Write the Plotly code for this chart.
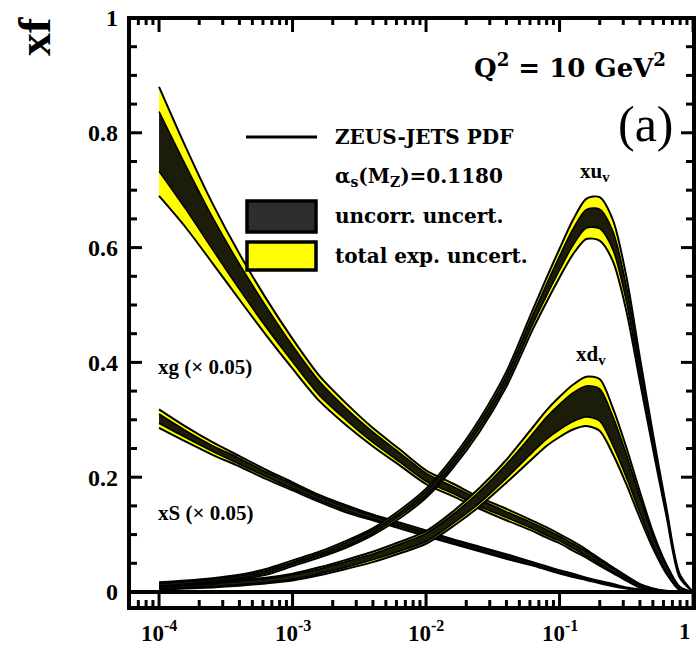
import math
import plotly.graph_objects as go

# ---------------- data ----------------
# x grid: log10(x) = -4 ... -1.2 in steps of 0.2, then -1.1 ... 0 in steps of 0.1
X = [1e-4, 1.585e-4, 2.512e-4, 3.981e-4, 6.31e-4, 1e-3, 1.585e-3, 2.512e-3, 3.981e-3,
     6.31e-3, 1e-2, 1.585e-2, 2.512e-2, 3.981e-2, 6.31e-2, 7.943e-2, 0.1, 0.1259,
     0.1585, 0.1995, 0.2512, 0.3162, 0.3981, 0.5012, 0.631, 0.7943, 1.0]

XUV = [0.013, 0.016, 0.02, 0.026, 0.035, 0.05, 0.065, 0.083, 0.105, 0.135, 0.172,
       0.225, 0.29, 0.37, 0.475, 0.525, 0.573, 0.618, 0.65, 0.65, 0.612, 0.52,
       0.39, 0.262, 0.14, 0.028, 0.0]
XUV_TOT = [0.004, 0.004, 0.004, 0.004, 0.005, 0.005, 0.005, 0.006, 0.006, 0.007, 0.008,
           0.009, 0.011, 0.013, 0.017, 0.021, 0.025, 0.03, 0.035, 0.038, 0.036, 0.03,
           0.021, 0.013, 0.007, 0.003, 0.0]
XUV_UNC = [0.002, 0.002, 0.002, 0.002, 0.002, 0.002, 0.002, 0.003, 0.003, 0.003, 0.004,
           0.004, 0.005, 0.006, 0.008, 0.01, 0.012, 0.014, 0.016, 0.017, 0.016, 0.013,
           0.009, 0.006, 0.003, 0.001, 0.0]

XDV = [0.008, 0.01, 0.012, 0.016, 0.02, 0.026, 0.036, 0.048, 0.061, 0.077, 0.095,
       0.127, 0.165, 0.21, 0.26, 0.285, 0.305, 0.322, 0.332, 0.326, 0.28, 0.22,
       0.153, 0.09, 0.04, 0.006, 0.0]
XDV_TOT = [0.004, 0.004, 0.004, 0.005, 0.005, 0.006, 0.007, 0.008, 0.009, 0.01, 0.011,
           0.013, 0.016, 0.02, 0.027, 0.031, 0.035, 0.039, 0.043, 0.045, 0.04, 0.032,
           0.023, 0.014, 0.008, 0.003, 0.0]
XDV_UNC = [0.002, 0.002, 0.002, 0.003, 0.003, 0.004, 0.004, 0.005, 0.005, 0.006, 0.007,
           0.008, 0.01, 0.012, 0.016, 0.019, 0.022, 0.025, 0.027, 0.028, 0.025, 0.02,
           0.014, 0.008, 0.005, 0.002, 0.0]

XG = [0.785, 0.705, 0.625, 0.55, 0.48, 0.415, 0.355, 0.31, 0.27, 0.235, 0.2,
      0.178, 0.155, 0.135, 0.115, 0.104, 0.093, 0.08, 0.067, 0.052, 0.038, 0.024,
      0.011, 0.004, 0.001, 0.0, 0.0]
XG_TOT = [0.095, 0.07, 0.052, 0.04, 0.032, 0.026, 0.022, 0.019, 0.016, 0.014, 0.012,
          0.011, 0.01, 0.01, 0.009, 0.009, 0.008, 0.008, 0.007, 0.006, 0.005, 0.004,
          0.003, 0.002, 0.001, 0.0, 0.0]
XG_UNC = [0.052, 0.038, 0.028, 0.022, 0.018, 0.014, 0.012, 0.01, 0.009, 0.008, 0.007,
          0.006, 0.006, 0.005, 0.005, 0.005, 0.004, 0.004, 0.004, 0.003, 0.003, 0.002,
          0.002, 0.001, 0.0, 0.0, 0.0]

XS = [0.302, 0.275, 0.25, 0.228, 0.205, 0.184, 0.163, 0.145, 0.13, 0.116, 0.102,
      0.088, 0.075, 0.062, 0.049, 0.042, 0.035, 0.029, 0.023, 0.017, 0.012, 0.007,
      0.004, 0.002, 0.001, 0.0, 0.0]
XS_TOT = [0.016, 0.013, 0.011, 0.009, 0.008, 0.007, 0.006, 0.006, 0.005, 0.005, 0.005,
          0.004, 0.004, 0.004, 0.003, 0.003, 0.003, 0.003, 0.002, 0.002, 0.002, 0.001,
          0.001, 0.001, 0.0, 0.0, 0.0]
XS_UNC = [0.008, 0.006, 0.005, 0.005, 0.004, 0.004, 0.003, 0.003, 0.003, 0.002, 0.002,
          0.002, 0.002, 0.002, 0.002, 0.002, 0.001, 0.001, 0.001, 0.001, 0.001, 0.0,
          0.0, 0.0, 0.0, 0.0, 0.0]

X_TICKS = [1e-4, 1e-3, 1e-2, 1e-1, 1]
X_TICKTEXT = ['10<sup>-4</sup>', '10<sup>-3</sup>', '10<sup>-2</sup>', '10<sup>-1</sup>', '1']
Y_TICKS = [0, 0.2, 0.4, 0.6, 0.8, 1.0]
Y_TICKTEXT = ['0', '0.2', '0.4', '0.6', '0.8', '1']

# ---------------- layout geometry (page pixels; body margin removed) ----------------
W, H = 698, 648
L, R, T, B = 129, 694, 18, 608
XMIN, XMAX = -4.225, 0.007
YMIN, YMAX = -0.0279, 1.0


def px(xp):
    return (xp - L) / (R - L)


def py(yp):
    return (B - yp) / (B - T)


def xpaper(v):
    return (math.log10(v) - XMIN) / (XMAX - XMIN)


def ypaper(v):
    return (v - YMIN) / (YMAX - YMIN)


YELLOW = '#ffff00'
DARK = '#1c1c0a'

fig = go.Figure()


def add_band(c, tot, unc):
    lo_t = [max(a - b, 0.0) for a, b in zip(c, tot)]
    hi_t = [a + b for a, b in zip(c, tot)]
    lo_u = [max(a - b, 0.0) for a, b in zip(c, unc)]
    hi_u = [a + b for a, b in zip(c, unc)]
    ln = dict(color='black', width=2, shape='spline', smoothing=0.8)
    fig.add_trace(go.Scatter(x=X, y=lo_t, mode='lines', line=ln,
                             hoverinfo='skip', showlegend=False))
    fig.add_trace(go.Scatter(x=X, y=hi_t, mode='lines', line=ln, fill='tonexty',
                             fillcolor=YELLOW, hoverinfo='skip', showlegend=False))
    ln2 = dict(color='black', width=1.6, shape='spline', smoothing=0.8)
    fig.add_trace(go.Scatter(x=X, y=lo_u, mode='lines', line=ln2,
                             hoverinfo='skip', showlegend=False))
    fig.add_trace(go.Scatter(x=X, y=hi_u, mode='lines', line=ln2, fill='tonexty',
                             fillcolor=DARK, hoverinfo='skip', showlegend=False))


add_band(XG, XG_TOT, XG_UNC)
add_band(XS, XS_TOT, XS_UNC)
add_band(XDV, XDV_TOT, XDV_UNC)
add_band(XUV, XUV_TOT, XUV_UNC)

minor_x = [k * 10.0 ** e for e in range(-5, 0) for k in range(2, 10)]
minor_x = [v for v in minor_x if 10 ** XMIN <= v <= 1.0]
minor_y = [round(0.05 * i, 2) for i in range(1, 20) if i % 4 != 0]

TICKFONT = dict(family='Liberation Serif', size=24, color='black', weight='bold')
XTICKFONT = dict(family='Liberation Serif', size=23, color='black', weight='bold')

fig.update_xaxes(
    type='log', range=[XMIN, XMAX],
    showline=False, ticks='', showticklabels=False,
    showgrid=False, zeroline=False,
)
fig.update_yaxes(
    range=[YMIN, YMAX], automargin=False,
    showline=False, ticks='',
    tickmode='array', tickvals=Y_TICKS, ticktext=Y_TICKTEXT,
    tickfont=TICKFONT, ticklabelstandoff=10,
    showgrid=False, zeroline=True, zerolinecolor='black', zerolinewidth=3.5,
)

LEG = dict(family='DejaVu Serif', size=20, color='black', weight='bold')
LBL = dict(family='Liberation Serif', size=21, color='black', weight='bold')

annots = [
    dict(text='xf', x=px(34), y=py(37), font=dict(family='Liberation Serif', size=46,
                                                  color='black', weight='bold'),
         textangle=-90, xanchor='center', yanchor='middle'),
    dict(text='Q<sup>2</sup> = 10 GeV<sup>2</sup>', x=px(668), y=py(66),
         font=dict(family='DejaVu Serif', size=26, color='black', weight='bold'),
         xanchor='right', yanchor='middle'),
    dict(text='(a)', x=px(646), y=py(124),
         font=dict(family='Liberation Serif', size=50, color='black'),
         xanchor='center', yanchor='middle'),
    dict(text='ZEUS-JETS PDF', x=px(333), y=py(137), font=LEG, xanchor='left', yanchor='middle'),
    dict(text='α<sub>s</sub>(M<sub>Z</sub>)=0.1180', x=px(333), y=py(177), font=LEG,
         xanchor='left', yanchor='middle'),
    dict(text='uncorr. uncert.', x=px(333), y=py(216), font=LEG, xanchor='left', yanchor='middle'),
    dict(text='total exp. uncert.', x=px(333), y=py(256), font=LEG, xanchor='left', yanchor='middle'),
    dict(text='xu<sub>v</sub>', x=px(578), y=py(172), font=LBL, xanchor='left', yanchor='middle'),
    dict(text='xd<sub>v</sub>', x=px(574), y=py(355), font=LBL, xanchor='left', yanchor='middle'),
    dict(text='xg (× 0.05)', x=px(156), y=py(367), font=LBL, xanchor='left', yanchor='middle'),
    dict(text='xS (× 0.05)', x=px(156), y=py(513), font=LBL, xanchor='left', yanchor='middle'),
]
for a in annots:
    a.update(xref='paper', yref='paper', showarrow=False)

# x tick labels as annotations (log axis -> annotation x is log10 of value)
for v, t in zip(X_TICKS, X_TICKTEXT):
    annots.append(dict(text=t, x=math.log10(v), xref='x', y=py(631), yref='paper',
                       showarrow=False, font=XTICKFONT,
                       xanchor='right' if v == 1 else 'center', yanchor='middle'))

shapes = [
    dict(type='line', x0=px(246), x1=px(317), y0=py(137), y1=py(137),
         line=dict(color='black', width=3)),
    dict(type='rect', x0=px(247), x1=px(316), y0=py(201), y1=py(232),
         fillcolor='#2e2e2e', line=dict(color='black', width=3.5)),
    dict(type='rect', x0=px(247), x1=px(316), y0=py(242), y1=py(270),
         fillcolor=YELLOW, line=dict(color='black', width=3.5)),
    # plot frame
    dict(type='rect', x0=0, x1=1, y0=0, y1=1, fillcolor='rgba(0,0,0,0)',
         line=dict(color='black', width=4), layer='above'),
]

# frame tick marks (axis decoration, in paper units)
PW, PH = R - L, B - T
TW = 3
for v in X_TICKS:
    xp = xpaper(v)
    shapes.append(dict(type='line', x0=xp, x1=xp, y0=0, y1=17 / PH,
                       line=dict(color='black', width=TW)))
    shapes.append(dict(type='line', x0=xp, x1=xp, y0=1, y1=1 - 14 / PH,
                       line=dict(color='black', width=TW)))
for v in minor_x:
    xp = xpaper(v)
    shapes.append(dict(type='line', x0=xp, x1=xp, y0=0, y1=8 / PH,
                       line=dict(color='black', width=TW)))
    shapes.append(dict(type='line', x0=xp, x1=xp, y0=1, y1=1 - 7 / PH,
                       line=dict(color='black', width=TW)))
for v in Y_TICKS + minor_y:
    yp = ypaper(v)
    ln = 13 if v in Y_TICKS else 8
    shapes.append(dict(type='line', x0=0, x1=ln / PW, y0=yp, y1=yp,
                       line=dict(color='black', width=TW)))
    shapes.append(dict(type='line', x0=1, x1=1 - ln / PW, y0=yp, y1=yp,
                       line=dict(color='black', width=TW)))

for s in shapes:
    s.update(xref='paper', yref='paper')

fig.update_layout(
    width=W, height=H,
    margin=dict(l=L, r=W - R, t=T, b=H - B, autoexpand=False),
    paper_bgcolor='white', plot_bgcolor='white',
    showlegend=False,
    annotations=annots, shapes=shapes,
)

fig.write_html(
    'out.html',
    config={'displayModeBar': False},
    post_script="document.body.style.margin='0';document.body.style.overflow='hidden';"
                "window.scrollTo(0,0);",
)
